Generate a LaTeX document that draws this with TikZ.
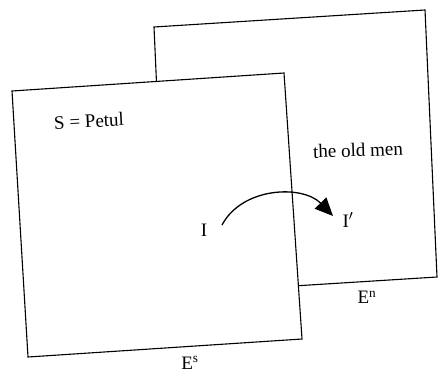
\documentclass[tikz,border=0pt]{standalone}
\usepackage{fontspec}
\setmainfont{Liberation Serif}
\usetikzlibrary{arrows.meta}

\begin{document}
\begin{tikzpicture}[x=1pt, y=1pt,
      plano/.style={draw=black, fill=white, line width=1.1pt, line join=miter},
      seta/.style={-{Triangle[length=18pt, width=16pt]}, line width=1.3pt, color=black},
      nota/.style={font=\fontsize{19}{22}\selectfont, inner sep=1pt}]
    \useasboundingbox (0,0) rectangle (438,373);
    % back plane E^n
    \coordinate (bTL) at (154,346);
    \coordinate (bTR) at (425,363);
    \coordinate (bBR) at (437,96);
    \coordinate (bBL) at (166,79);
    \draw[plano] (bTL) -- (bTR) -- (bBR) -- (bBL) -- cycle;
    % front plane E^s
    \coordinate (fTL) at (12,282);
    \coordinate (fTR) at (284,300);
    \coordinate (fBR) at (302,34);
    \coordinate (fBL) at (28,16);
    \draw[plano] (fTL) -- (fTR) -- (fBR) -- (fBL) -- cycle;
    \node[nota, rotate=3] (s) at (89,252) {S = Petul};
    \node[nota, rotate=2] (men) at (358,223) {the old men};
    \node[nota] (i) at (204,143) {I};
    \node[nota] (i2) at (348,153) {I$'$};
    \node[nota] (en) at (367,76) {E\textsuperscript{n}};
    \node[nota, anchor=base] (es) at (190,4) {E\textsuperscript{s}};
    \draw[seta] ([shift={(18,5)}]i.center) to[out=62, in=134] ([shift={(-15,4)}]i2.center);
  \end{tikzpicture}
\end{document}
